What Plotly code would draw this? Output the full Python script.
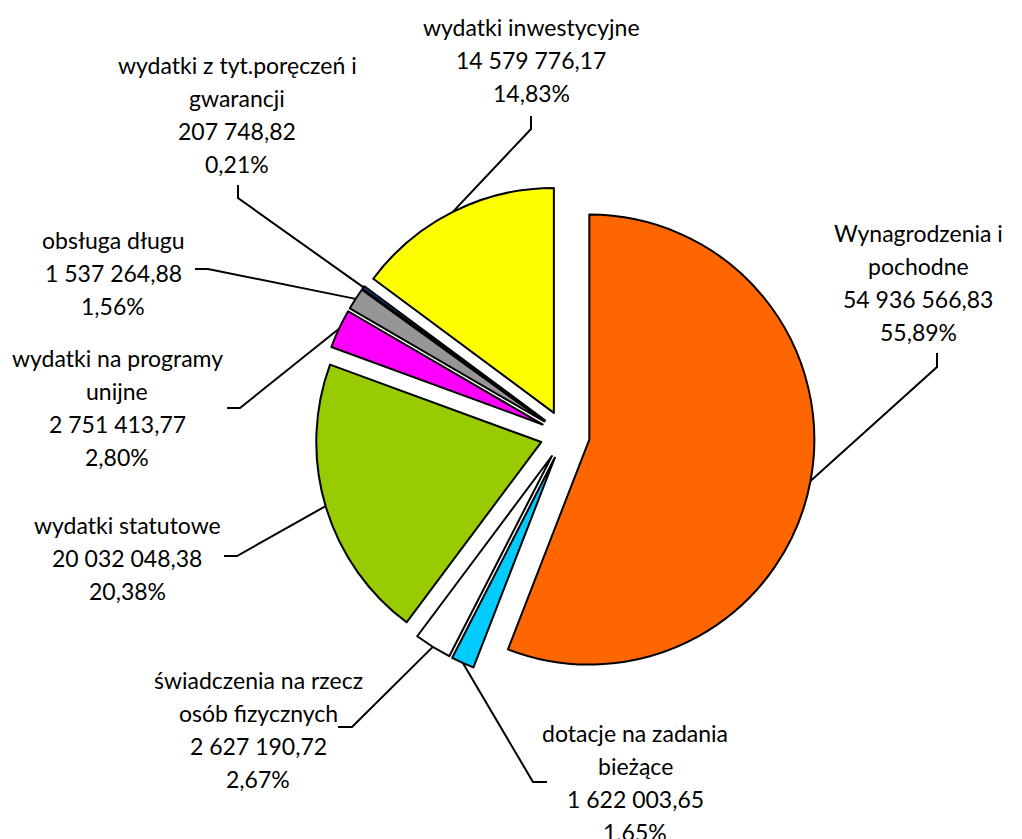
import math
import plotly.graph_objects as go

# ---- data ----
categories = [
    "Wynagrodzenia i<br>pochodne",
    "dotacje na zadania<br>bieżące",
    "świadczenia na rzecz<br>osób fizycznych",
    "wydatki statutowe",
    "wydatki na programy<br>unijne",
    "obsługa długu",
    "wydatki z tyt.poręczeń i<br>gwarancji",
    "wydatki inwestycyjne",
]
values = [54936566.83, 1622003.65, 2627190.72, 20032048.38,
          2751413.77, 1537264.88, 207748.82, 14579776.17]
colors = ["#FF6600", "#00CCFF", "#FFFFFF", "#99CC00",
          "#FF00FF", "#969696", "#0066CC", "#FFFF00"]

# ---- layout parameters (pixels) ----
W, H = 1022, 839
CX, CY, R = 565, 435, 225
PULL = 0.11
FONT = "Lato"
FS = 23
LINE_H = 33

# label block centre x and first-line centre y
label_pos = [(918, 233), (635, 733), (258, 680), (127, 525),
             (117, 358), (113, 240), (237, 65), (531, 27)]
# leader line: elbow point, end point
elbows = [(937, 367), (533, 782), (352, 727), (237, 556),
          (240, 408), (208, 269), (238, 198), (531, 129)]
ends = [(937, 353), (547, 782), (338, 727), (224, 556),
        (227, 408), (195, 269), (238, 185), (531, 116)]


def fmt_num(v):
    return f"{v:,.2f}".replace(",", " ").replace(".", ",")


total = sum(values)
pcts = [v / total * 100 for v in values]

fig = go.Figure()
side = 2 * R * (1 + PULL)
fig.add_trace(go.Pie(
    values=values,
    labels=[c.replace("<br>", " ") for c in categories],
    marker=dict(colors=colors, line=dict(color="black", width=2)),
    sort=False, direction="clockwise", rotation=0,
    pull=[PULL] * len(values),
    textinfo="none", hoverinfo="label+value+percent",
    showlegend=False,
    domain=dict(x=[(CX - side / 2) / W, (CX + side / 2) / W],
                y=[1 - (CY + side / 2) / H, 1 - (CY - side / 2) / H]),
))

shapes = []
annotations = []
cum = 0.0
for i, v in enumerate(values):
    mid = (cum + v / 2) / total * 2 * math.pi
    cum += v
    dx, dy = math.sin(mid), -math.cos(mid)
    sx = CX + (R + PULL * R) * dx
    sy = CY + (R + PULL * R) * dy
    ex, ey = elbows[i]
    fx, fy = ends[i]
    shapes.append(dict(type="path", xref="x", yref="y",
                       path=f"M{sx},{sy} L{ex},{ey} L{fx},{fy}",
                       line=dict(color="black", width=2)))
    lines = categories[i].split("<br>") + [fmt_num(v), f"{pcts[i]:.2f}%".replace(".", ",")]
    lx, ly = label_pos[i]
    for k, t in enumerate(lines):
        annotations.append(dict(x=lx, y=ly + k * LINE_H, xref="x", yref="y",
                                text=t, showarrow=False, xanchor="center",
                                yanchor="middle",
                                font=dict(family=FONT, size=FS, color="black")))

fig.update_layout(
    width=W, height=H, margin=dict(l=0, r=0, t=0, b=0),
    paper_bgcolor="white", plot_bgcolor="rgba(0,0,0,0)",
    xaxis=dict(range=[0, W], visible=False, fixedrange=True),
    yaxis=dict(range=[H, 0], visible=False, fixedrange=True),
    shapes=shapes, annotations=annotations,
)

fig.write_html("out.html", config={"displayModeBar": False},
               post_script="document.body.style.margin='0';")
